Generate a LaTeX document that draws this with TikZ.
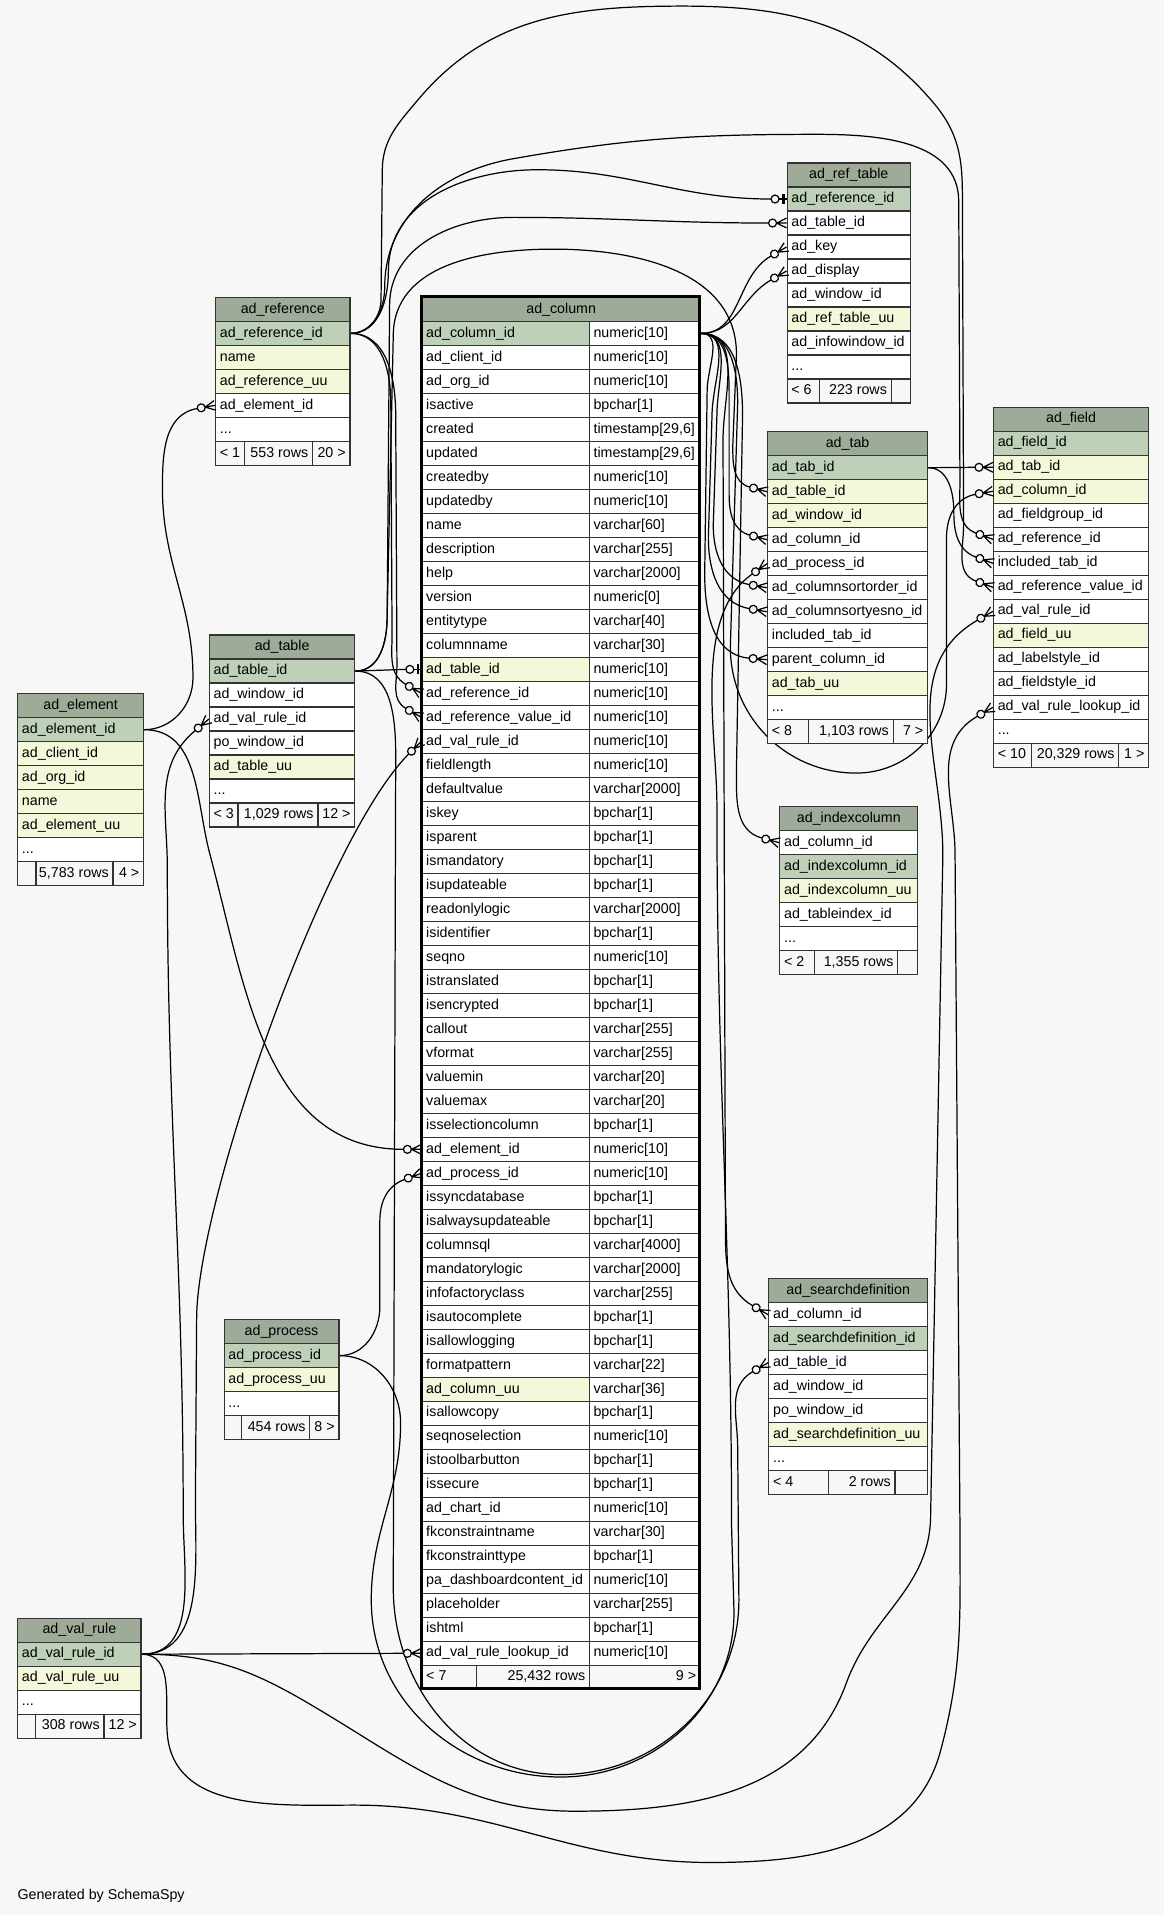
\documentclass[tikz,border=0pt]{standalone}
\usepackage{fontspec}
\setmainfont{Liberation Sans}
\usetikzlibrary{calc}
\definecolor{bg}{HTML}{F7F7F7}
\definecolor{hd}{HTML}{9DAB98}
\definecolor{pk}{HTML}{BED1B8}
\definecolor{yl}{HTML}{F4F7DA}
\definecolor{wt}{HTML}{FFFFFF}
\definecolor{bd}{HTML}{333333}
\pgfdeclarelayer{back}
\pgfdeclarelayer{lines}
\pgfsetlayers{back,lines,main}
\tikzset{
  cellbox/.style={rectangle, draw=bd, line width=0.6pt, inner ysep=0pt, inner xsep=2.1pt,
    minimum height=11.79pt, font=\fontsize{7}{8}\selectfont, text height=5.1pt, text depth=1.5pt},
  fk/.style={draw=black, line width=0.6pt},
  mk/.style={draw=black, line width=0.6pt},
}
\newcommand\rowdots{...}
\newcommand\trow[7]{%
  \pgfmathsetmacro\cellw{#4*0.6}%
  \pgfmathsetmacro\cellt{max(#4*0.6-4.2,0.5)}%
  \node[cellbox, fill=#5, minimum width=\cellw pt, anchor=north west] (#1) at (#2,#3) {\makebox[\cellt pt][#6]{#7}};%
}
\newcommand\mktable[6]{%
  \trow{#1-0}{#2}{#3}{#4}{hd}{c}{#5}%
  \foreach \rowfill/\rowtext [count=\k] in {#6} {%
    \pgfmathsetmacro\rowy{#3+\k*19.65}%
    \trow{#1-\k}{#2}{\rowy}{#4}{\rowfill}{l}{\rowtext}%
  }%
}
\newcommand\mkfoot[9]{%
  \pgfmathsetmacro\fwa{#3-#2}\pgfmathsetmacro\fwb{#4-#3}\pgfmathsetmacro\fwc{#5-#4}%
  \trow{#1-fa}{#2}{#6}{\fwa}{bg}{l}{#7}%
  \trow{#1-fb}{#3}{#6}{\fwb}{bg}{r}{#8}%
  \trow{#1-fc}{#4}{#6}{\fwc}{bg}{r}{#9}%
}
\newcommand\crowend[3]{%
  \coordinate (#1) at ($(#2.west)+(#3:8.8pt)$);
  \begin{scope}[shift={(#2.west)}, rotate=#3-180]
    \draw[mk] (-4.9pt,0pt) -- (0pt,2.4pt) (-4.9pt,0pt) -- (0pt,0pt) (-4.9pt,0pt) -- (0pt,-2.4pt);
    \draw[mk, fill=bg] (-6.85pt,0pt) circle[radius=1.95pt];
  \end{scope}}
\newcommand\teeend[3]{%
  \coordinate (#1) at ($(#2.west)+(#3:7.6pt)$);
  \begin{scope}[shift={(#2.west)}, rotate=#3-180]
    \draw[mk] (-3.7pt,0pt) -- (0pt,0pt);
    \draw[line width=1.3pt] (-1.6pt,-2.4pt) -- (-1.6pt,2.4pt);
    \draw[mk, fill=bg] (-5.65pt,0pt) circle[radius=1.95pt];
  \end{scope}}
\begin{document}
\catcode`\_=12
\begin{tikzpicture}[x=0.6pt,y=-0.6pt]
\useasboundingbox (0,0) rectangle (953,1568);
\begin{pgfonlayer}{back}
\node[fill=bg, minimum width=571.8pt, minimum height=940.8pt, anchor=north west, inner sep=0pt, outer sep=0pt] (bgbox) at (0,0) {};
\end{pgfonlayer}

% ---------------- tables ----------------
\mktable{ref}{176}{243}{110}{ad_reference}{pk/ad_reference_id, yl/name, yl/ad_reference_uu, wt/ad_element_id, wt/\rowdots}
\mkfoot{ref}{176}{199.5}{255.4}{286}{360.9}{< 1}{553 rows}{20 >}

\mktable{rt}{644}{133}{101}{ad_ref_table}{pk/ad_reference_id, wt/ad_table_id, wt/ad_key, wt/ad_display, wt/ad_window_id, yl/ad_ref_table_uu, wt/ad_infowindow_id, wt/\rowdots}
\mkfoot{rt}{644}{670.8}{729.2}{745}{309.85}{< 6}{223 rows}{}

\mktable{tab}{628}{353}{131}{ad_tab}{pk/ad_tab_id, yl/ad_table_id, yl/ad_window_id, wt/ad_column_id, wt/ad_process_id, wt/ad_columnsortorder_id, wt/ad_columnsortyesno_id, wt/included_tab_id, wt/parent_column_id, yl/ad_tab_uu, wt/\rowdots}
\mkfoot{tab}{628}{661.2}{730.8}{759}{588.8}{< 8}{1,103 rows}{7 >}

\mktable{fld}{813}{333}{127}{ad_field}{pk/ad_field_id, yl/ad_tab_id, yl/ad_column_id, wt/ad_fieldgroup_id, wt/ad_reference_id, wt/included_tab_id, wt/ad_reference_value_id, wt/ad_val_rule_id, yl/ad_field_uu, wt/ad_labelstyle_id, wt/ad_fieldstyle_id, wt/ad_val_rule_lookup_id, wt/\rowdots}
\mkfoot{fld}{813}{843.8}{915.5}{940}{608.1}{< 10}{20,329 rows}{1 >}

\mktable{idx}{638}{660}{113}{ad_indexcolumn}{wt/ad_column_id, pk/ad_indexcolumn_id, yl/ad_indexcolumn_uu, wt/ad_tableindex_id, wt/\rowdots}
\mkfoot{idx}{638}{666.7}{734.6}{751}{777.9}{< 2}{1,355 rows}{}

\mktable{sd}{629}{1046.5}{130}{ad_searchdefinition}{wt/ad_column_id, pk/ad_searchdefinition_id, wt/ad_table_id, wt/ad_window_id, wt/po_window_id, yl/ad_searchdefinition_uu, wt/\rowdots}
\mkfoot{sd}{629}{677.6}{732.4}{759}{1203.7}{< 4}{2 rows}{}

\mktable{tbl}{171}{519.5}{119}{ad_table}{pk/ad_table_id, wt/ad_window_id, wt/ad_val_rule_id, wt/po_window_id, yl/ad_table_uu, wt/\rowdots}
\mkfoot{tbl}{171}{194.3}{259.8}{290}{657.05}{< 3}{1,029 rows}{12 >}

\mktable{el}{14}{567.5}{103}{ad_element}{pk/ad_element_id, yl/ad_client_id, yl/ad_org_id, yl/name, yl/ad_element_uu, wt/\rowdots}
\mkfoot{el}{14}{29}{92}{117}{705.05}{}{5,783 rows}{4 >}

\mktable{pr}{183}{1080}{94}{ad_process}{pk/ad_process_id, yl/ad_process_uu, wt/\rowdots}
\mkfoot{pr}{183}{197.3}{253.2}{277}{1158.6}{}{454 rows}{8 >}

\mktable{vr}{14}{1324.5}{101}{ad_val_rule}{pk/ad_val_rule_id, yl/ad_val_rule_uu, wt/\rowdots}
\mkfoot{vr}{14}{28.7}{84.6}{115}{1403.1}{}{308 rows}{12 >}

% ad_column (two columns)
\trow{col-0}{345}{243}{228}{hd}{c}{ad_column}
\foreach \rowfill/\rowname/\rowtype [count=\k] in {
 pk/ad_column_id/numeric[10], wt/ad_client_id/numeric[10], wt/ad_org_id/numeric[10],
 wt/isactive/bpchar[1], wt/created/{timestamp[29,6]}, wt/updated/{timestamp[29,6]},
 wt/createdby/numeric[10], wt/updatedby/numeric[10], wt/name/varchar[60],
 wt/description/varchar[255], wt/help/varchar[2000], wt/version/numeric[0],
 wt/entitytype/varchar[40], wt/columnname/varchar[30], yl/ad_table_id/numeric[10],
 wt/ad_reference_id/numeric[10], wt/ad_reference_value_id/numeric[10], wt/ad_val_rule_id/numeric[10],
 wt/fieldlength/numeric[10], wt/defaultvalue/varchar[2000], wt/iskey/bpchar[1],
 wt/isparent/bpchar[1], wt/ismandatory/bpchar[1], wt/isupdateable/bpchar[1],
 wt/readonlylogic/varchar[2000], wt/isidentifier/bpchar[1], wt/seqno/numeric[10],
 wt/istranslated/bpchar[1], wt/isencrypted/bpchar[1], wt/callout/varchar[255],
 wt/vformat/varchar[255], wt/valuemin/varchar[20], wt/valuemax/varchar[20],
 wt/isselectioncolumn/bpchar[1], wt/ad_element_id/numeric[10], wt/ad_process_id/numeric[10],
 wt/issyncdatabase/bpchar[1], wt/isalwaysupdateable/bpchar[1], wt/columnsql/varchar[4000],
 wt/mandatorylogic/varchar[2000], wt/infofactoryclass/varchar[255], wt/isautocomplete/bpchar[1],
 wt/isallowlogging/bpchar[1], wt/formatpattern/varchar[22], yl/ad_column_uu/varchar[36],
 wt/isallowcopy/bpchar[1], wt/seqnoselection/numeric[10], wt/istoolbarbutton/bpchar[1],
 wt/issecure/bpchar[1], wt/ad_chart_id/numeric[10], wt/fkconstraintname/varchar[30],
 wt/fkconstrainttype/bpchar[1], wt/pa_dashboardcontent_id/numeric[10], wt/placeholder/varchar[255],
 wt/ishtml/bpchar[1], wt/ad_val_rule_lookup_id/numeric[10]} {
  \pgfmathsetmacro\rowy{243+\k*19.65}
  \trow{col-\k}{345}{\rowy}{137}{\rowfill}{l}{\rowname}
  \trow{colt-\k}{482}{\rowy}{91}{wt}{l}{\rowtype}
}
\mkfoot{col}{345}{389.7}{482.2}{573}{1363.05}{< 7}{25,432 rows}{9 >}
\node[draw=black, line width=1.5pt, minimum width=136.8pt, minimum height=683.8pt, anchor=north west, inner sep=0pt, outer sep=0pt] (colframe) at (345,243) {};

% ---------------- connector ends ----------------
\teeend{e-rt1}{rt-1}{180}
\crowend{e-rt2}{rt-2}{180}
\crowend{e-rt3}{rt-3}{210}
\crowend{e-rt4}{rt-4}{210}
\crowend{e-tab2}{tab-2}{165}
\crowend{e-tab4}{tab-4}{165}
\crowend{e-tab5}{tab-5}{215}
\crowend{e-tab6}{tab-6}{170}
\crowend{e-tab7}{tab-7}{170}
\crowend{e-tab9}{tab-9}{175}
\crowend{e-fld2}{fld-2}{180}
\crowend{e-fld3}{fld-3}{190}
\crowend{e-fld5}{fld-5}{160}
\crowend{e-fld6}{fld-6}{160}
\crowend{e-fld7}{fld-7}{160}
\crowend{e-fld8}{fld-8}{210}
\crowend{e-fld12}{fld-12}{210}
\crowend{e-idx1}{idx-1}{165}
\crowend{e-sd1}{sd-1}{150}
\crowend{e-sd3}{sd-3}{210}
\teeend{e-col15}{col-15}{180}
\crowend{e-col16}{col-16}{150}
\crowend{e-col17}{col-17}{150}
\crowend{e-col18}{col-18}{225}
\crowend{e-col35}{col-35}{180}
\crowend{e-col36}{col-36}{200}
\crowend{e-col56}{col-56}{180}
\crowend{e-ref4}{ref-4}{190}
\crowend{e-tbl3}{tbl-3}{220}

% ---------------- connectors ----------------
\begin{pgfonlayer}{lines}
% from ad_reference
\draw[fk] (ref-1.east) to[out=0,in=270] (318,222) to[out=90,in=180] (440,139) to[out=0,in=180] (e-rt1);
\draw[fk] (ref-1.east) to[out=0,in=90] (320,330) -- (321,520) to[out=270,in=150] (e-col16);
\draw[fk] (ref-1.east) to[out=0,in=90] (324,340) -- (325,545) to[out=270,in=150] (e-col17);
\draw[fk] (ref-1.east) to[out=0,in=270] (315,235) to[out=90,in=190] (420,130) to[out=10,in=180] (669,110) to[out=0,in=90] (785,165) -- (786,395) to[out=270,in=160] (e-fld5);
\draw[fk] (ref-1.east) to[out=0,in=270] (312,245) -- (313,140) to[out=90,in=230] (342,82) to[out=50,in=180] (559,5) to[out=0,in=130] (765,85) to[out=310,in=90] (788,160) -- (789,430) to[out=270,in=160] (e-fld7);
% from ad_table
\draw[fk] (tbl-1.east) to[out=0,in=270] (317,505) -- (319,250) to[out=90,in=180] (420,178) to[out=0,in=180] (e-rt2);
\draw[fk] (tbl-1.east) to[out=0,in=270] (317,505) -- (322,275) to[out=90,in=180] (453,204) to[out=0,in=90] (603,290) -- (600,365) to[out=270,in=165] (e-tab2);
\draw[fk] (tbl-1.east) -- (e-col15);
\draw[fk] (tbl-1.east) to[out=0,in=90] (324,620) -- (322,1300) to[out=270,in=180] (459,1453) to[out=0,in=270] (605,1310) -- (604,1185) to[out=90,in=210] (e-sd3);
% from ad_element
\draw[fk] (el-1.east) to[out=0,in=270] (158,555) to[out=90,in=270] (133,400) to[out=90,in=190] (e-ref4);
\draw[fk] (el-1.east) to[out=0,in=105] (172,700) to[out=285,in=180] (e-col35);
% from ad_val_rule
\draw[fk] (vr-1.east) to[out=0,in=270] (150,1240) to[out=90,in=270] (137,710) to[out=90,in=220] (e-tbl3);
\draw[fk] (vr-1.east) to[out=0,in=270] (160,1230) -- (161,1080) to[out=90,in=225,looseness=0.5] (e-col18);
\draw[fk] (vr-1.east) -- (e-col56);
\draw[fk] (vr-1.east) to[out=0,in=150] (248,1392) to[out=330,in=180] (471,1483) to[out=0,in=250] (693,1378) to[out=70,in=270] (762,1240) -- (772,700) to[out=90,in=210] (e-fld8);
\draw[fk] (vr-1.east) to[out=0,in=95] (137,1420) to[out=275,in=180] (290,1478) to[out=0,in=180] (582,1525) to[out=0,in=255] (770,1434) to[out=75,in=270] (786,1250) -- (782,700) to[out=90,in=210] (e-fld12);
% from ad_process
\draw[fk] (pr-1.east) to[out=0,in=270] (311,1070) -- (311,1000) to[out=90,in=200] (e-col36);
\draw[fk] (pr-1.east) to[out=0,in=90] (328,1165) to[out=270,in=90] (304,1310) to[out=270,in=180] (459,1455) to[out=0,in=270] (601,1320) -- (599,1250) to[out=90,in=270] (587,660) to[out=90,in=215,looseness=0.8] (e-tab5);
% from ad_column.ad_column_id
\draw[fk] (colt-1.east) to[out=0,in=210] (e-rt3);
\draw[fk] (colt-1.east) to[out=0,in=210] (e-rt4);
\draw[fk] (colt-1.east) to[out=0,in=90] (597,330) -- (597,405) to[out=270,in=165] (e-tab4);
\draw[fk] (colt-1.east) to[out=0,in=90] (587,340) -- (584,430) to[out=270,in=170] (e-tab6);
\draw[fk] (colt-1.east) to[out=0,in=90] (583,340) -- (580,440) to[out=270,in=170] (e-tab7);
\draw[fk] (colt-1.east) to[out=0,in=90] (579,320) -- (577,470) to[out=270,in=175] (e-tab9);
\draw[fk] (colt-1.east) to[out=0,in=90] (604,330) -- (598,530) to[out=270,in=180] (701,633) to[out=0,in=270] (775,560) -- (775,440) to[out=90,in=190] (e-fld3);
\draw[fk] (colt-1.east) to[out=0,in=90] (608,340) -- (603,630) to[out=270,in=165] (e-idx1);
\draw[fk] (colt-1.east) to[out=0,in=90] (592,360) -- (594,1010) to[out=270,in=150] (e-sd1);
% from ad_tab
\draw[fk] (tab-1.east) -- (e-fld2);
\draw[fk] (tab-1.east) to[out=0,in=90] (781,420) to[out=270,in=160] (e-fld6);
\end{pgfonlayer}

\node[anchor=west, inner sep=0pt, font=\fontsize{7}{8}\selectfont] (gen) at (14,1552) {Generated by SchemaSpy};
\end{tikzpicture}
\end{document}
